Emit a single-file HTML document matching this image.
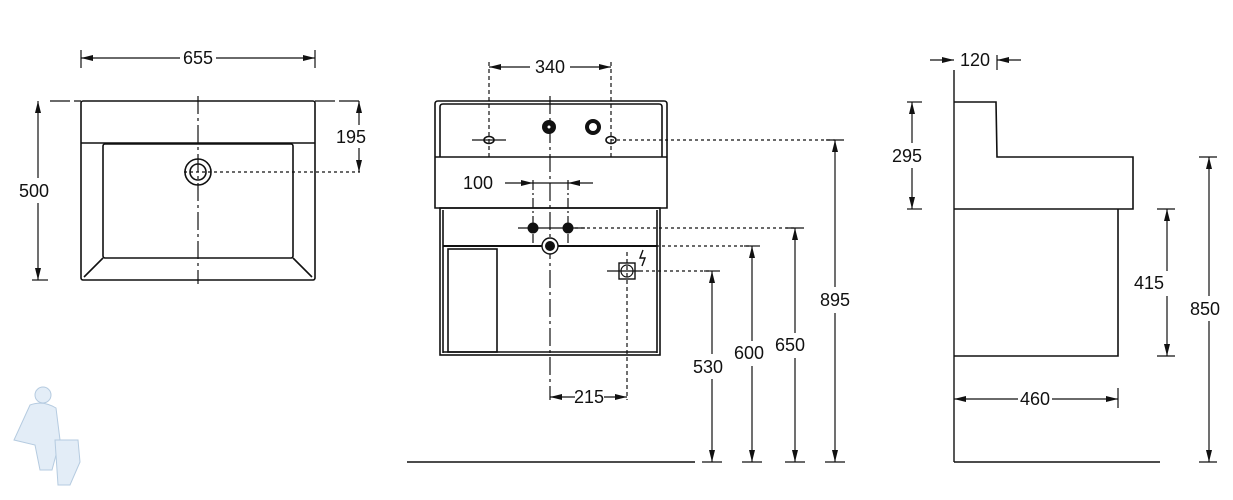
<!DOCTYPE html>
<html><head><meta charset="utf-8"><style>
html,body{margin:0;padding:0;background:#fff}
svg{display:block}
text{font-family:"Liberation Sans",sans-serif;font-size:18px;fill:#111}
</style></head><body>
<svg width="1233" height="500" viewBox="0 0 1233 500" xmlns="http://www.w3.org/2000/svg">
<defs>
<marker id="a" viewBox="0 0 12 6" refX="12" refY="3" markerWidth="12" markerHeight="6" orient="auto-start-reverse" markerUnits="userSpaceOnUse"><path d="M0,0L12,3L0,6z" fill="#111"/></marker>
</defs>
<g stroke="#111" stroke-width="1.6" fill="none">
<rect x="81" y="101" width="234" height="179" rx="2"/>
<line x1="81" y1="143" x2="315" y2="143"/>
<rect x="103" y="144" width="190" height="114" rx="2"/>
<line x1="103" y1="258" x2="84" y2="277"/><line x1="293" y1="258" x2="312" y2="277"/>
<circle cx="198" cy="172" r="13"/><circle cx="198" cy="172" r="8"/>
<line x1="198" y1="96" x2="198" y2="284" stroke-dasharray="18,4,3,4" stroke-width="1.2"/>
<line x1="184" y1="172" x2="360" y2="172" stroke-dasharray="3,3" stroke-width="1.2"/>
<line x1="50" y1="101" x2="81" y2="101" stroke-dasharray="20,4" stroke-width="1.2"/>
<line x1="315" y1="101" x2="360" y2="101" stroke-dasharray="20,4" stroke-width="1.2"/>
<line x1="81" y1="50" x2="81" y2="68" stroke-width="1.2"/><line x1="315" y1="50" x2="315" y2="68" stroke-width="1.2"/>
<line x1="81" y1="58" x2="180" y2="58" marker-start="url(#a)" stroke-width="1.2"/>
<line x1="216" y1="58" x2="315" y2="58" marker-end="url(#a)" stroke-width="1.2"/>
<line x1="38" y1="101" x2="38" y2="178" marker-start="url(#a)" stroke-width="1.2"/>
<line x1="38" y1="203" x2="38" y2="280" marker-end="url(#a)" stroke-width="1.2"/>
<line x1="32" y1="280" x2="48" y2="280" stroke-width="1.2"/>
<line x1="359" y1="101" x2="359" y2="125" marker-start="url(#a)" stroke-width="1.2"/>
<line x1="359" y1="148" x2="359" y2="172" marker-end="url(#a)" stroke-width="1.2"/>

<path d="M435,208 L435,104 Q435,101 438,101 L664,101 Q667,101 667,104 L667,208 Z"/>
<path d="M440,157 L440,107 Q440,104 443,104 L659,104 Q662,104 662,107 L662,157"/>
<line x1="435" y1="157" x2="667" y2="157"/>
<rect x="440" y="208" width="220" height="147"/>
<line x1="443" y1="210" x2="443" y2="353"/><line x1="657" y1="210" x2="657" y2="353"/>
<line x1="443" y1="246" x2="657" y2="246" stroke-width="2"/>
<line x1="443" y1="352" x2="657" y2="352"/>
<rect x="448" y="249" width="49" height="103"/>
<line x1="489" y1="62" x2="489" y2="158" stroke-dasharray="4,3" stroke-width="1.2"/>
<line x1="611" y1="62" x2="611" y2="158" stroke-dasharray="4,3" stroke-width="1.2"/>
<line x1="489" y1="67" x2="530" y2="67" marker-start="url(#a)" stroke-width="1.2"/>
<line x1="570" y1="67" x2="611" y2="67" marker-end="url(#a)" stroke-width="1.2"/>
<ellipse cx="489" cy="140" rx="5" ry="3.5"/><line x1="472" y1="140" x2="506" y2="140" stroke-width="1.2"/>
<ellipse cx="611" cy="140" rx="5" ry="3.5"/>
<line x1="550" y1="96" x2="550" y2="400" stroke-dasharray="18,4,3,4" stroke-width="1.2"/>
<line x1="533" y1="180" x2="533" y2="243" stroke-dasharray="10,3,2,3" stroke-width="1.2"/>
<line x1="568" y1="180" x2="568" y2="243" stroke-dasharray="10,3,2,3" stroke-width="1.2"/>
<line x1="505" y1="183" x2="533" y2="183" marker-end="url(#a)" stroke-width="1.2"/>
<line x1="533" y1="183" x2="568" y2="183" stroke-width="1.2"/>
<line x1="593" y1="183" x2="568" y2="183" marker-end="url(#a)" stroke-width="1.2"/>
<line x1="518" y1="228" x2="585" y2="228" stroke-width="1.2"/>
<line x1="611" y1="140" x2="835" y2="140" stroke-dasharray="3,3" stroke-width="1.2"/>
<line x1="575" y1="228" x2="795" y2="228" stroke-dasharray="3,3" stroke-width="1.2"/>
<line x1="560" y1="246" x2="752" y2="246" stroke-dasharray="3,3" stroke-width="1.2"/>
<line x1="640" y1="271" x2="712" y2="271" stroke-dasharray="3,3" stroke-width="1.2"/>
<rect x="619" y="263" width="16" height="16" stroke-width="1.4"/><circle cx="627" cy="271" r="6" stroke-width="1.2"/>
<line x1="607" y1="271" x2="640" y2="271" stroke-width="1.2"/>
<line x1="627" y1="252" x2="627" y2="400" stroke-dasharray="4,3" stroke-width="1.2"/>
<path d="M643,250 L640,258 L645,258 L642,266" stroke-width="1.4"/>
<line x1="550" y1="397" x2="575" y2="397" marker-start="url(#a)" stroke-width="1.2"/>
<line x1="604" y1="397" x2="627" y2="397" marker-end="url(#a)" stroke-width="1.2"/>
<line x1="407" y1="462" x2="695" y2="462" stroke-width="1.4"/>
<g stroke-width="1.2">
<line x1="835" y1="140" x2="835" y2="287" marker-start="url(#a)"/><line x1="835" y1="313" x2="835" y2="462" marker-end="url(#a)"/>
<line x1="795" y1="228" x2="795" y2="333" marker-start="url(#a)"/><line x1="795" y1="358" x2="795" y2="462" marker-end="url(#a)"/>
<line x1="752" y1="246" x2="752" y2="341" marker-start="url(#a)"/><line x1="752" y1="366" x2="752" y2="462" marker-end="url(#a)"/>
<line x1="712" y1="271" x2="712" y2="354" marker-start="url(#a)"/><line x1="712" y1="379" x2="712" y2="462" marker-end="url(#a)"/>
<line x1="826" y1="140" x2="844" y2="140"/><line x1="786" y1="228" x2="804" y2="228"/><line x1="744" y1="246" x2="760" y2="246"/><line x1="704" y1="271" x2="720" y2="271"/>
<line x1="785" y1="462" x2="805" y2="462"/><line x1="825" y1="462" x2="845" y2="462"/><line x1="742" y1="462" x2="762" y2="462"/><line x1="702" y1="462" x2="722" y2="462"/>
</g>

<line x1="954" y1="70" x2="954" y2="462" stroke-width="1.4"/>
<path d="M954,102 L996,102 L997,157 L1133,157 L1133,209 L954,209"/>
<path d="M1118,209 L1118,356 L954,356"/>
<line x1="954" y1="462" x2="1160" y2="462" stroke-width="1.4"/>
<line x1="997" y1="55" x2="997" y2="70" stroke-width="1.2"/>
<line x1="930" y1="60" x2="954" y2="60" marker-end="url(#a)" stroke-width="1.2"/>
<line x1="1021" y1="60" x2="997" y2="60" marker-end="url(#a)" stroke-width="1.2"/>
<g stroke-width="1.2">
<line x1="907" y1="102" x2="922" y2="102"/><line x1="907" y1="209" x2="922" y2="209"/>
<line x1="912" y1="102" x2="912" y2="143" marker-start="url(#a)"/><line x1="912" y1="168" x2="912" y2="209" marker-end="url(#a)"/>
<line x1="1157" y1="209" x2="1175" y2="209"/><line x1="1157" y1="356" x2="1175" y2="356"/>
<line x1="1167" y1="209" x2="1167" y2="271" marker-start="url(#a)"/><line x1="1167" y1="296" x2="1167" y2="356" marker-end="url(#a)"/>
<line x1="1199" y1="157" x2="1217" y2="157"/><line x1="1199" y1="462" x2="1217" y2="462"/>
<line x1="1209" y1="157" x2="1209" y2="296" marker-start="url(#a)"/><line x1="1209" y1="321" x2="1209" y2="462" marker-end="url(#a)"/>
<line x1="1118" y1="388" x2="1118" y2="408"/>
<line x1="954" y1="399" x2="1018" y2="399" marker-start="url(#a)"/><line x1="1052" y1="399" x2="1118" y2="399" marker-end="url(#a)"/>
</g>
</g>
<g stroke="none">
<circle cx="549" cy="127" r="7" fill="#111"/><circle cx="549" cy="127" r="1.5" fill="#fff"/>
<circle cx="593" cy="127" r="8" fill="#111"/><circle cx="593" cy="127" r="4" fill="#fff"/>
<circle cx="533" cy="228" r="5.5" fill="#111"/><circle cx="568" cy="228" r="5.5" fill="#111"/>
<circle cx="550" cy="246" r="8" fill="#fff" stroke="#111" stroke-width="1.4"/><circle cx="550" cy="246" r="5" fill="#111"/>
</g>
<text x="198" y="64" text-anchor="middle">655</text>
<text x="19" y="197">500</text>
<text x="336" y="143">195</text>
<text x="550" y="73" text-anchor="middle">340</text>
<text x="463" y="189">100</text>
<text x="589" y="403" text-anchor="middle">215</text>
<text x="835" y="306" text-anchor="middle">895</text>
<text x="790" y="351" text-anchor="middle">650</text>
<text x="749" y="359" text-anchor="middle">600</text>
<text x="708" y="373" text-anchor="middle">530</text>
<text x="975" y="66" text-anchor="middle">120</text>
<text x="892" y="162">295</text>
<text x="1164" y="289" text-anchor="end">415</text>
<text x="1190" y="315">850</text>
<text x="1035" y="405" text-anchor="middle">460</text>
<g fill="#e3edf7" stroke="#b5cbe0" stroke-width="1">
<circle cx="43" cy="395" r="8"/>
<path d="M30,405 Q43,400 56,408 L60,440 L52,470 L40,470 L35,445 L14,440 Z"/>
<path d="M55,440 L78,440 L80,462 L70,485 L58,485 Z"/>
</g>
</svg>
</body></html>
